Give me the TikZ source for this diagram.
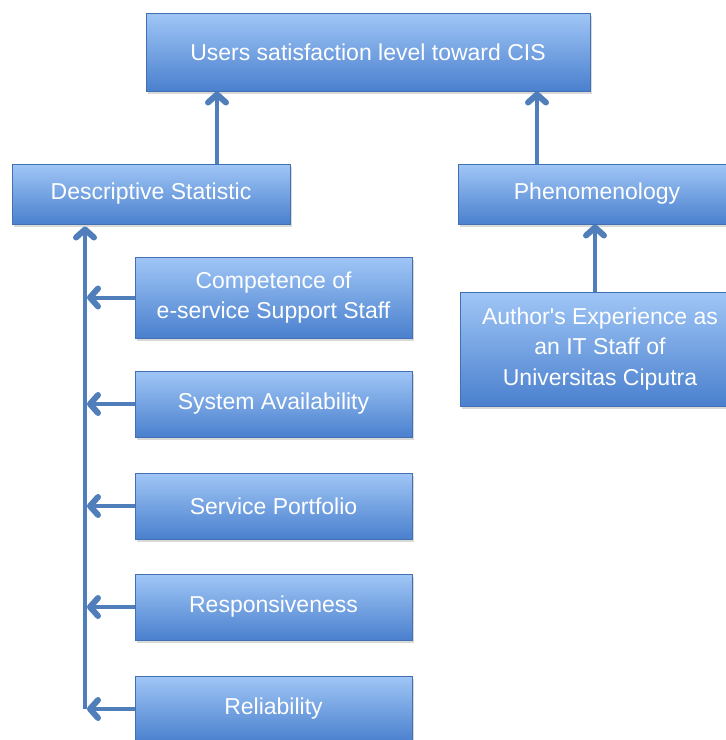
\documentclass[tikz,border=0pt]{standalone}
\usepackage{fontspec}
\setmainfont{Liberation Sans}
\usetikzlibrary{arrows.meta,shadows}
\definecolor{boxtop}{RGB}{160,198,246}
\definecolor{boxbot}{RGB}{74,128,206}
\definecolor{boxline}{RGB}{66,112,178}
\definecolor{linec}{RGB}{79,126,186}
\begin{document}
\begin{tikzpicture}[x=1pt,y=-1pt,
  box/.style={draw=boxline,line width=1pt,top color=boxtop,bottom color=boxbot,
    text=white,align=center,inner sep=0pt,
    font=\fontsize{23}{30.5}\selectfont,
    drop shadow={shadow xshift=2pt,shadow yshift=-3pt,opacity=0.3}},
  arr/.style={draw=linec,line width=4pt,-{Straight Barb[length=8pt,width=18pt,line width=6pt,line cap=round,line join=round]}}]
\clip (0,0) rectangle (726,740);
\node[box,minimum width=444pt,minimum height=78pt] (top) at (368,52) {Users satisfaction level toward CIS};
\node[box,minimum width=278pt,minimum height=60pt] (desc) at (151,194) {Descriptive Statistic};
\node[box,minimum width=278pt,minimum height=60pt] (phen) at (597,194) {Phenomenology};
\node[box,minimum width=280pt,minimum height=114pt] (exp) at (600,349) {Author\textquotesingle s Experience as\\an IT Staff of\\Universitas Ciputra};
\node[box,minimum width=277pt,minimum height=81pt] (c1) at (273.5,297.5) {Competence of\\e-service Support Staff};
\foreach \i/\y/\t in {2/404/System Availability,3/506/Service Portfolio,4/607/Responsiveness,5/709/Reliability}
  \node[box,minimum width=277pt,minimum height=66pt] (c\i) at (273.5,\y) {\t};
\coordinate (bus) at (85,0);
\draw [arr] (217,0 |- desc.north) -- (217,0 |- top.south);
\draw [arr] (537,0 |- phen.north) -- (537,0 |- top.south);
\draw [arr] (exp.north -| 595,0) -- (595,0 |- phen.south);
\draw [arr,shorten >=2pt] (c5.west -| bus) -- (desc.south -| bus);
\foreach \i in {1,...,5}
  \draw [arr] (c\i.west) -- ([xshift=2pt]c\i.west -| bus);
\end{tikzpicture}
\end{document}
